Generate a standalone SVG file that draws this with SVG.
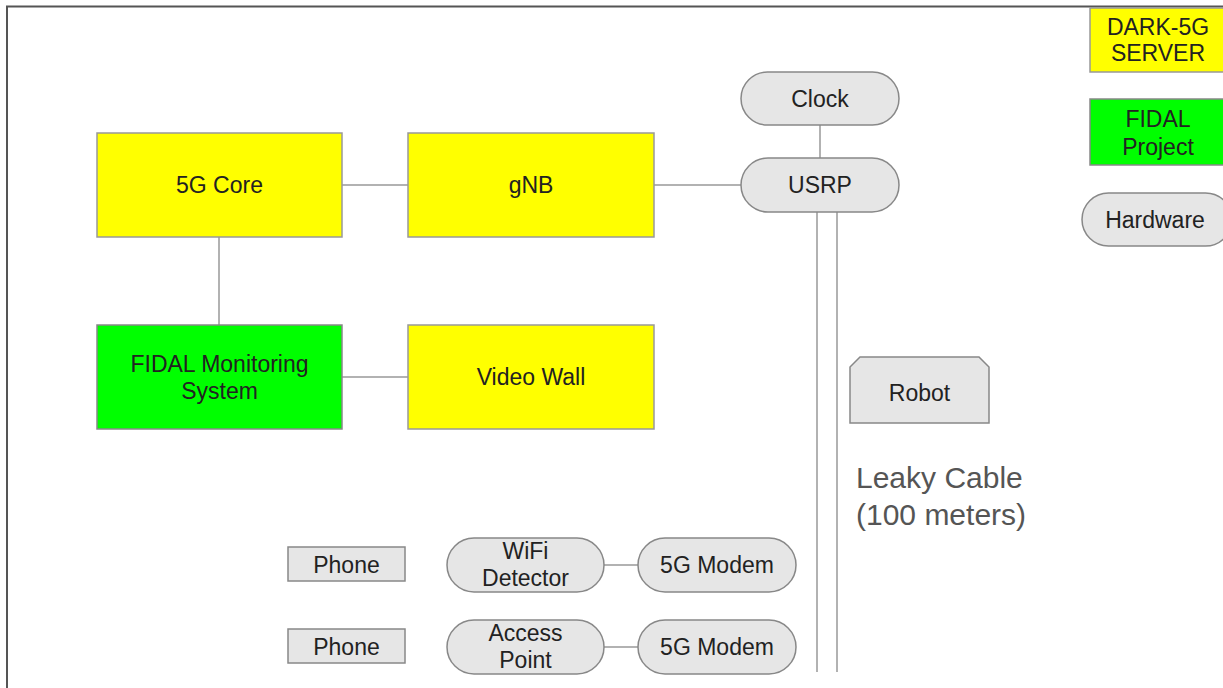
<svg xmlns="http://www.w3.org/2000/svg" width="1223" height="688" viewBox="0 0 1223 688">
<style>
text{font-family:"Liberation Sans",Arial,sans-serif;font-size:23px;fill:#222;text-anchor:middle;dominant-baseline:central}
.y{fill:#ffff00;stroke:#999;stroke-width:1.5}
.g{fill:#00ff00;stroke:#888;stroke-width:1.5}
.h{fill:#e6e6e6;stroke:#888;stroke-width:1.5}
.c{stroke:#999;stroke-width:1.5;fill:none}
.lk{font-size:30px;fill:#555;text-anchor:start}
</style>
<rect x="0" y="0" width="1223" height="688" fill="#fff"/>
<path d="M7 688 V6.5 H1223" fill="none" stroke="#555" stroke-width="2"/>
<g id="connectors">
<line class="c" x1="342" y1="185" x2="408" y2="185"/>
<line class="c" x1="654" y1="185" x2="741" y2="185"/>
<line class="c" x1="820" y1="125" x2="820" y2="158"/>
<line class="c" x1="219" y1="237" x2="219" y2="325"/>
<line class="c" x1="342" y1="377" x2="408" y2="377"/>
<line class="c" x1="604" y1="565" x2="638" y2="565"/>
<line class="c" x1="604" y1="647" x2="638" y2="647"/>
<line class="c" x1="817" y1="212" x2="817" y2="672"/>
<line class="c" x1="837" y1="212" x2="837" y2="672"/>
</g>
<g id="core5g"><rect class="y" x="97" y="133" width="245" height="104"/><text x="219.5" y="185">5G Core</text></g>
<g id="gnb"><rect class="y" x="408" y="133" width="246" height="104"/><text x="531" y="185">gNB</text></g>
<g id="fidalmon"><rect class="g" x="97" y="325" width="245" height="104"/><text x="219.5" y="364">FIDAL Monitoring</text><text x="219.5" y="391">System</text></g>
<g id="videowall"><rect class="y" x="408" y="325" width="246" height="104"/><text x="531" y="377">Video Wall</text></g>
<g id="clock"><rect class="h" x="741" y="72" width="158" height="53" rx="26.5"/><text x="820" y="99">Clock</text></g>
<g id="usrp"><rect class="h" x="741" y="158" width="158" height="54" rx="27"/><text x="820" y="185">USRP</text></g>
<g id="robot"><path class="h" d="M860 357 H979 L989 367 V423 H850 V367 Z"/><text x="919.5" y="393">Robot</text></g>
<g id="leaky"><text class="lk" x="856" y="477">Leaky Cable</text><text class="lk" x="856" y="514">(100 meters)</text></g>
<g id="dark5g"><rect class="y" x="1090" y="8" width="140" height="64"/><text x="1158" y="27">DARK-5G</text><text x="1158" y="53">SERVER</text></g>
<g id="fidalproj"><rect class="g" x="1090" y="99" width="140" height="66"/><text x="1158" y="119">FIDAL</text><text x="1158" y="147">Project</text></g>
<g id="hardware"><rect class="h" x="1082" y="193" width="150" height="53" rx="26.5"/><text x="1155" y="220">Hardware</text></g>
<g id="phone1"><rect class="h" x="288" y="547" width="117" height="34"/><text x="346.5" y="565">Phone</text></g>
<g id="phone2"><rect class="h" x="288" y="629" width="117" height="34"/><text x="346.5" y="647">Phone</text></g>
<g id="wifi"><rect class="h" x="447" y="538" width="157" height="54" rx="27"/><text x="525.5" y="551">WiFi</text><text x="525.5" y="578">Detector</text></g>
<g id="modem1"><rect class="h" x="638" y="538" width="158" height="54" rx="27"/><text x="717" y="565">5G Modem</text></g>
<g id="ap"><rect class="h" x="447" y="620" width="157" height="54" rx="27"/><text x="525.5" y="633">Access</text><text x="525.5" y="660">Point</text></g>
<g id="modem2"><rect class="h" x="638" y="620" width="158" height="54" rx="27"/><text x="717" y="647">5G Modem</text></g>
</svg>
